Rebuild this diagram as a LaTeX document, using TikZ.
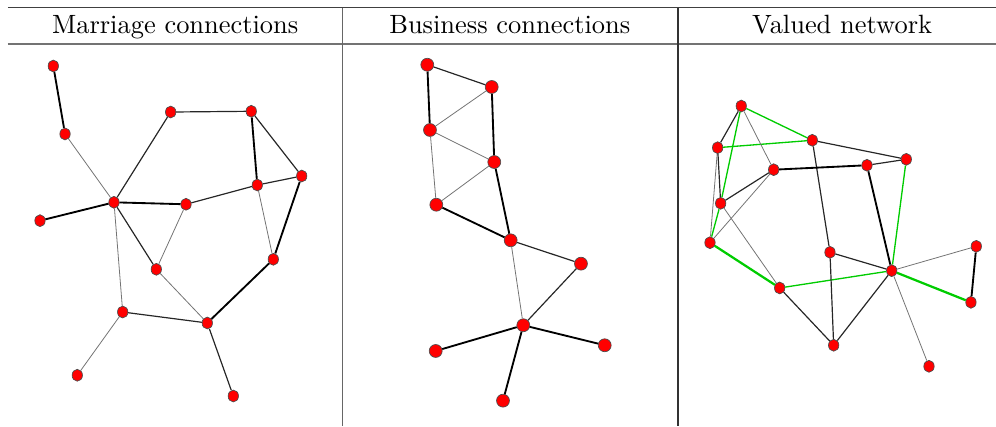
\documentclass[tikz,border=0pt]{standalone}
\usepackage{tikz}
\usetikzlibrary{shapes.geometric}

\begin{document}
\begin{tikzpicture}[
  vertex/.style={ellipse,draw=black!70,line width=0.25pt,fill=red,inner sep=0pt,minimum width=0.138cm,minimum height=0.158cm},
  roundvertex/.style={vertex,minimum width=0.172cm,minimum height=0.172cm},
  thinedge/.style={draw=black!55,line width=0.3pt},
  midedge/.style={draw=black!85,line width=0.45pt},
  boldedge/.style={draw=black,line width=0.7pt},
  greenedge/.style={draw=green!80!black,line width=0.5pt},
  boldgreen/.style={draw=green!80!black,line width=0.85pt}]
\useasboundingbox (0cm,0cm) rectangle (13.247cm,-5.666cm);
\draw[black!75,line width=0.6pt] (0.106cm,-0.1cm) -- (13.247cm,-0.1cm);
\draw[black!55,line width=0.4pt] (0.106cm,-0.585cm) -- (13.247cm,-0.585cm);
\draw[black!55,line width=0.8pt] (0.106cm,-0.59cm) -- (0.293cm,-0.59cm);
\draw[black!55,line width=0.8pt] (4.349cm,-0.59cm) -- (4.775cm,-0.59cm);
\draw[black!55,line width=0.8pt] (8.805cm,-0.59cm) -- (13.247cm,-0.59cm);
\draw[black!60,line width=0.5pt] (4.558cm,-0.1cm) -- (4.558cm,-5.666cm);
\draw[black!80,line width=0.45pt] (9.017cm,-0.1cm) -- (9.017cm,-5.666cm);
\node[anchor=base] at (2.33cm,-0.439cm) {Marriage connections};
\node[anchor=base] at (6.78cm,-0.439cm) {Business connections};
\node[anchor=base] at (11.2cm,-0.439cm) {Valued network};
% marriage network
\node[vertex] (1) at (0.709cm,-0.878cm) {};
\node[vertex] (2) at (0.865cm,-1.782cm) {};
\node[vertex] (3) at (2.270cm,-1.490cm) {};
\node[vertex] (4) at (3.342cm,-1.480cm) {};
\node[vertex] (5) at (4.013cm,-2.341cm) {};
\node[vertex] (6) at (3.422cm,-2.461cm) {};
\node[vertex] (7) at (1.516cm,-2.691cm) {};
\node[vertex] (8) at (2.474cm,-2.717cm) {};
\node[vertex] (9) at (0.532cm,-2.935cm) {};
\node[vertex] (10) at (3.635cm,-3.449cm) {};
\node[vertex] (11) at (2.079cm,-3.582cm) {};
\node[vertex] (12) at (1.632cm,-4.150cm) {};
\node[vertex] (13) at (2.757cm,-4.296cm) {};
\node[vertex] (14) at (1.028cm,-4.991cm) {};
\node[vertex] (15) at (3.103cm,-5.267cm) {};
\draw[boldedge] (1) -- (2);
\draw[thinedge] (2) -- (7);
\draw[midedge] (7) -- (3);
\draw[midedge] (3) -- (4);
\draw[boldedge] (4) -- (6);
\draw[midedge] (4) -- (5);
\draw[midedge] (5) -- (6);
\draw[midedge] (6) -- (8);
\draw[boldedge] (7) -- (8);
\draw[boldedge] (7) -- (9);
\draw[midedge] (7) -- (11);
\draw[thinedge] (7) -- (12);
\draw[thinedge] (8) -- (11);
\draw[thinedge] (6) -- (10);
\draw[boldedge] (5) -- (10);
\draw[boldedge] (10) -- (13);
\draw[thinedge] (11) -- (13);
\draw[midedge] (12) -- (13);
\draw[thinedge] (12) -- (14);
\draw[midedge] (13) -- (15);
% business network
\node[roundvertex] (16) at (5.683cm,-0.861cm) {};
\node[roundvertex] (17) at (6.540cm,-1.157cm) {};
\node[roundvertex] (18) at (5.719cm,-1.729cm) {};
\node[roundvertex] (19) at (6.574cm,-2.155cm) {};
\node[roundvertex] (20) at (5.803cm,-2.723cm) {};
\node[roundvertex] (21) at (6.792cm,-3.196cm) {};
\node[roundvertex] (22) at (7.727cm,-3.507cm) {};
\node[roundvertex] (23) at (6.960cm,-4.326cm) {};
\node[roundvertex] (24) at (5.795cm,-4.668cm) {};
\node[roundvertex] (25) at (8.043cm,-4.592cm) {};
\node[roundvertex] (26) at (6.690cm,-5.329cm) {};
\draw[midedge] (16) -- (17);
\draw[boldedge] (16) -- (18);
\draw[thinedge] (17) -- (18);
\draw[boldedge] (17) -- (19);
\draw[thinedge] (18) -- (19);
\draw[thinedge] (18) -- (20);
\draw[thinedge] (19) -- (20);
\draw[boldedge] (19) -- (21);
\draw[boldedge] (20) -- (21);
\draw[midedge] (21) -- (22);
\draw[thinedge] (21) -- (23);
\draw[midedge] (22) -- (23);
\draw[boldedge] (23) -- (24);
\draw[boldedge] (23) -- (25);
\draw[boldedge] (23) -- (26);
% valued network
\node[vertex] (27) at (9.859cm,-1.410cm) {};
\node[vertex] (28) at (9.545cm,-1.964cm) {};
\node[vertex] (29) at (10.804cm,-1.866cm) {};
\node[vertex] (30) at (10.290cm,-2.257cm) {};
\node[vertex] (31) at (11.531cm,-2.198cm) {};
\node[vertex] (32) at (12.054cm,-2.119cm) {};
\node[vertex] (33) at (9.585cm,-2.704cm) {};
\node[vertex] (34) at (9.443cm,-3.228cm) {};
\node[vertex] (35) at (11.039cm,-3.356cm) {};
\node[vertex] (36) at (12.985cm,-3.276cm) {};
\node[vertex] (37) at (11.860cm,-3.600cm) {};
\node[vertex] (38) at (10.370cm,-3.830cm) {};
\node[vertex] (39) at (12.914cm,-4.021cm) {};
\node[vertex] (40) at (11.088cm,-4.592cm) {};
\node[vertex] (41) at (12.356cm,-4.872cm) {};
\draw[greenedge] (27) -- (29);
\draw[greenedge] (27) -- (33);
\draw[greenedge] (28) -- (29);
\draw[greenedge] (33) -- (34);
\draw[boldgreen] (34) -- (38);
\draw[greenedge] (38) -- (37);
\draw[greenedge] (37) -- (32);
\draw[boldgreen] (37) -- (39);
\draw[midedge] (27) -- (28);
\draw[thinedge] (27) -- (30);
\draw[thinedge] (28) -- (34);
\draw[midedge] (28) -- (33);
\draw[midedge] (29) -- (32);
\draw[midedge] (29) -- (35);
\draw[boldedge] (30) -- (31);
\draw[midedge] (31) -- (32);
\draw[midedge] (30) -- (33);
\draw[thinedge] (30) -- (34);
\draw[thinedge] (33) -- (38);
\draw[boldedge] (31) -- (37);
\draw[midedge] (35) -- (37);
\draw[midedge] (35) -- (40);
\draw[midedge] (38) -- (40);
\draw[midedge] (40) -- (37);
\draw[thinedge] (37) -- (36);
\draw[boldedge] (36) -- (39);
\draw[thinedge] (37) -- (41);
\end{tikzpicture}
\end{document}
